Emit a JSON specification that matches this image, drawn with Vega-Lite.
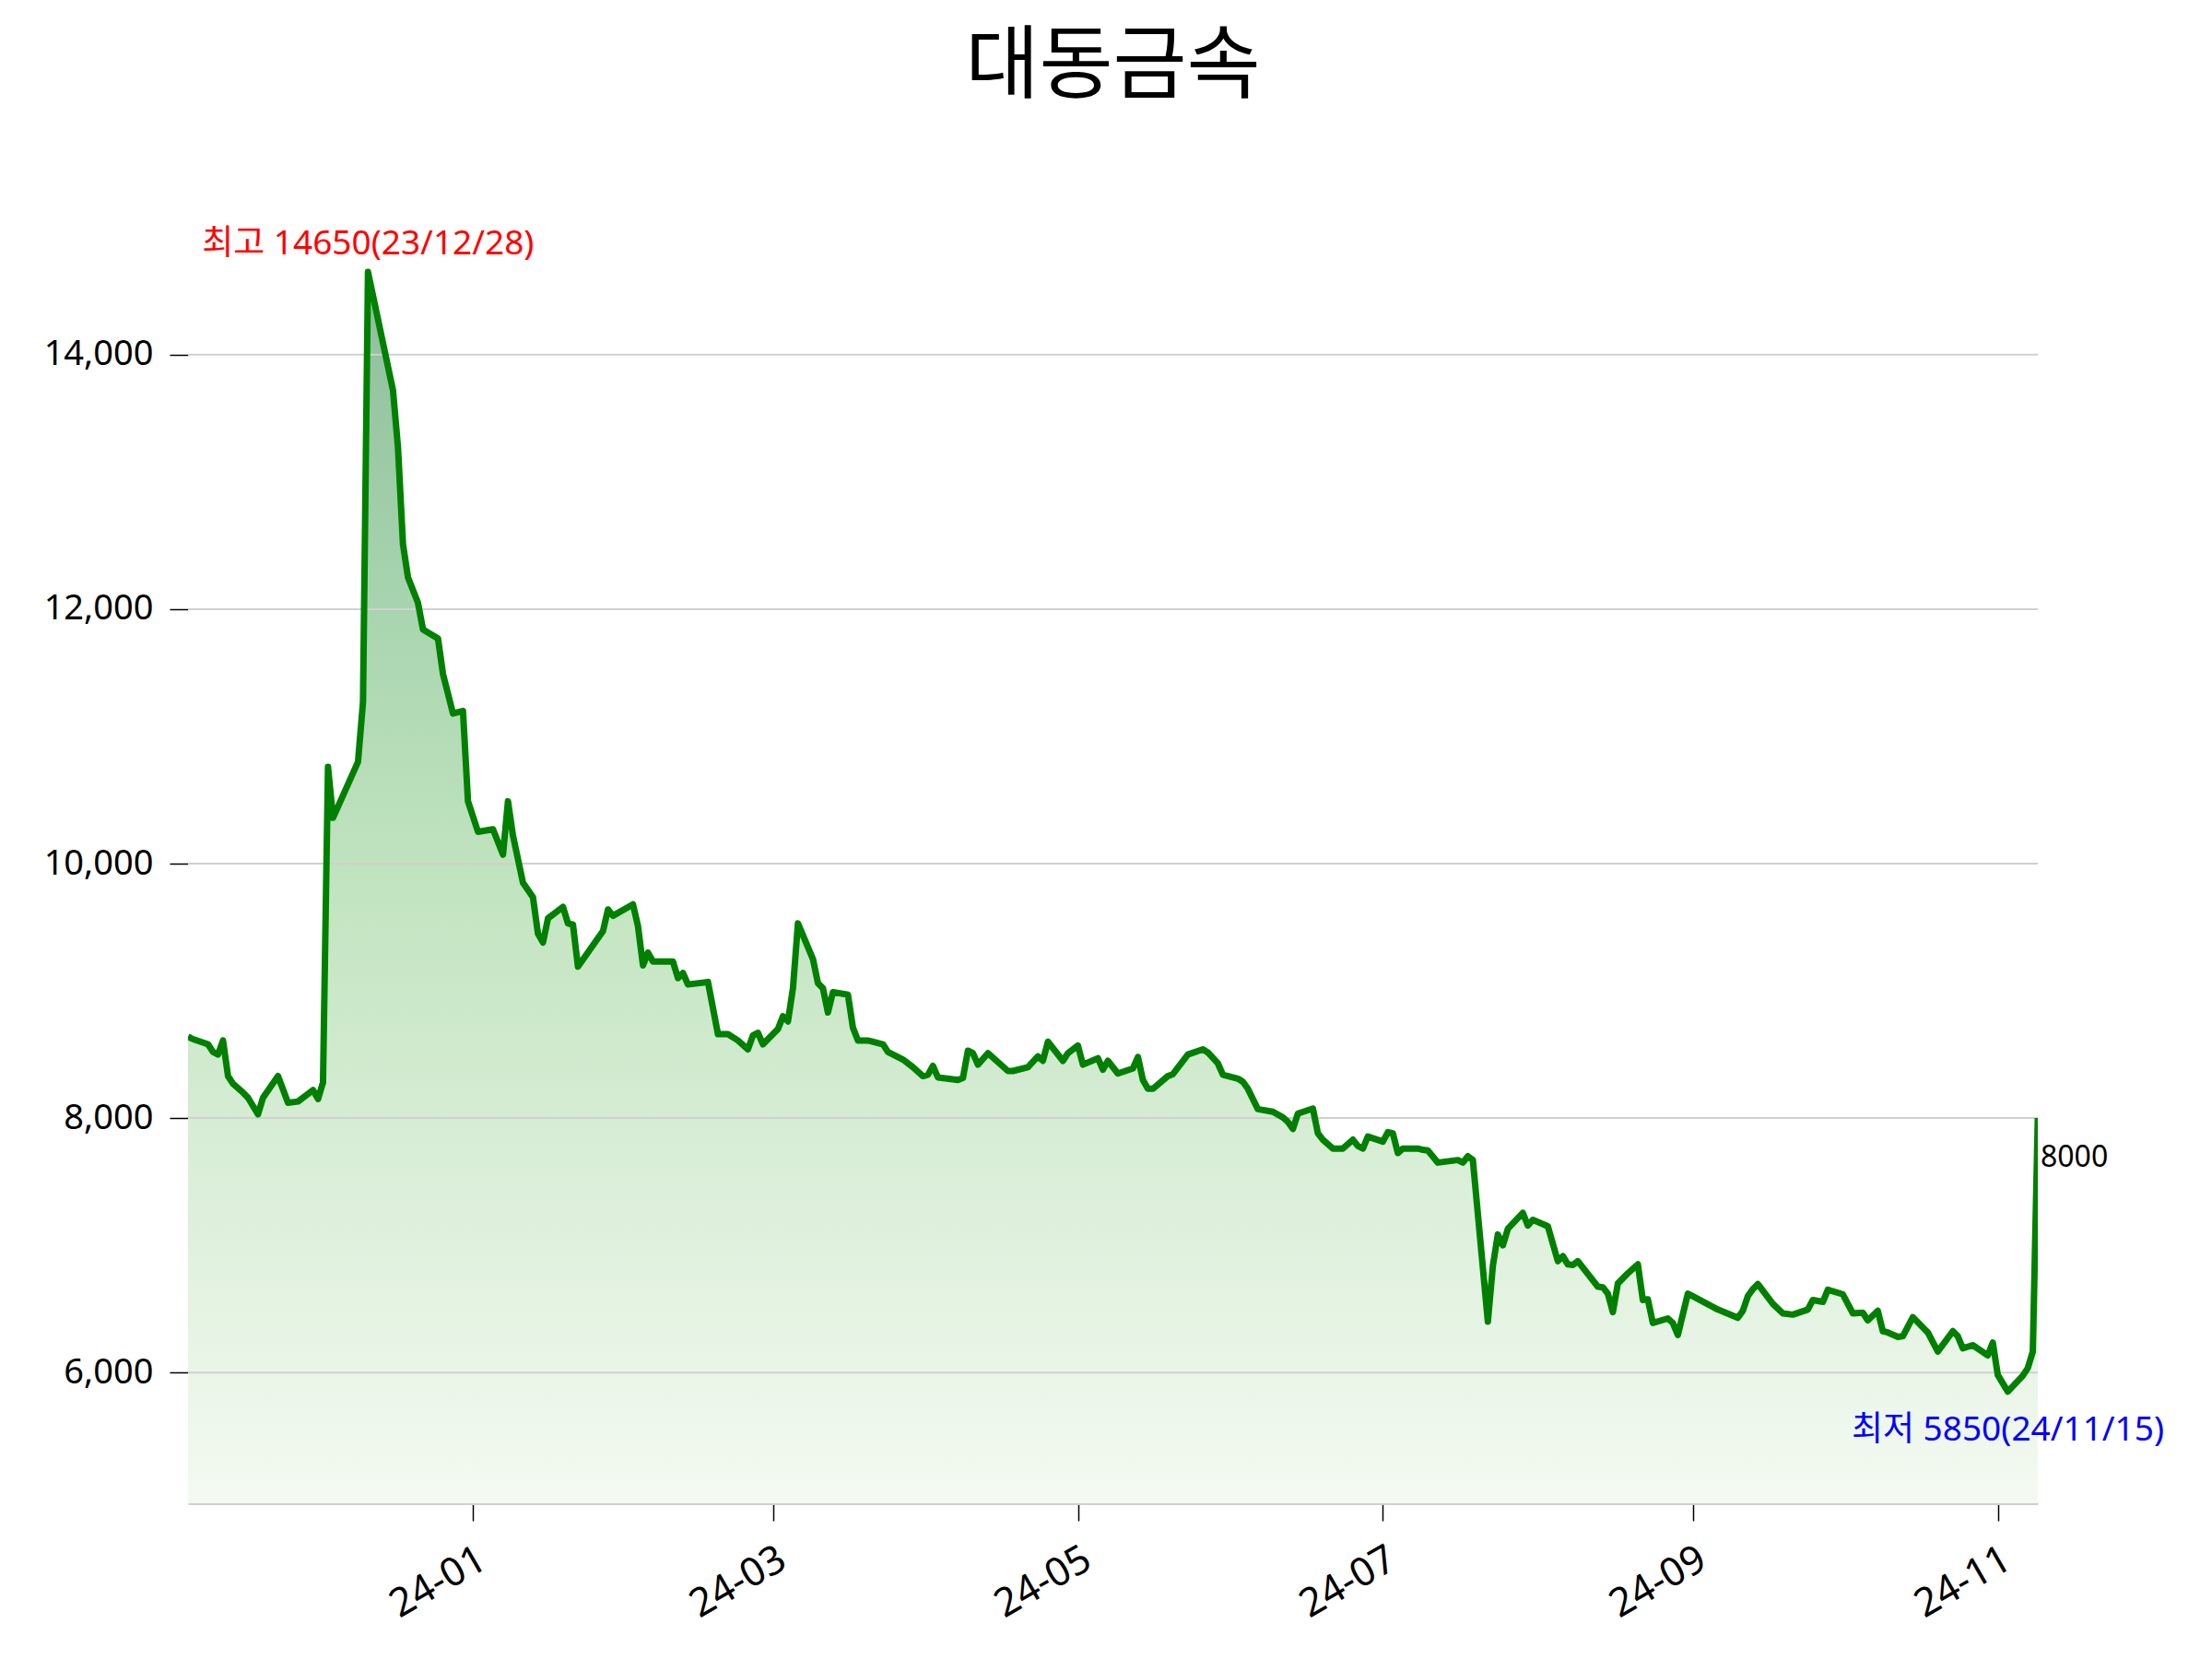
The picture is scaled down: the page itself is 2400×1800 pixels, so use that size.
{
  "$schema": "https://vega.github.io/schema/vega-lite/v6.json",
  "width": 2007,
  "height": 1437,
  "autosize": {"type": "none"},
  "padding": {"left": 204, "top": 194, "right": 189, "bottom": 169},
  "background": "white",
  "title": {
    "text": "대동금속",
    "font": "Noto Sans CJK KR",
    "fontSize": 87,
    "fontWeight": "normal",
    "color": "black",
    "anchor": "middle",
    "baseline": "alphabetic",
    "offset": 7
  },
  "config": {
    "view": {"stroke": null},
    "font": "'Noto Sans', 'Noto Sans CJK KR', sans-serif",
    "axisX": {
      "domainColor": "#cfcfcf",
      "domainWidth": 3,
      "tickColor": "black",
      "tickWidth": 1.5,
      "tickSize": 19,
      "labelFont": "Noto Sans",
      "labelFontSize": 43,
      "labelColor": "black",
      "labelAngle": -30,
      "labelAlign": "right",
      "labelBaseline": "top",
      "labelPadding": 20,
      "labelDx": -28,
      "labelDy": -14,
      "labelFlush": false,
      "grid": false,
      "title": null,
      "zindex": 1
    },
    "axisY": {
      "domain": false,
      "tickColor": "black",
      "tickWidth": 1.5,
      "tickSize": 20,
      "labelFont": "Noto Sans",
      "labelFontSize": 38,
      "labelColor": "black",
      "labelPadding": 18,
      "grid": false,
      "title": null
    }
  },
  "datasets": {
    "price": [
      {"date": "2023-11-05", "v": 8640}, {"date": "2023-11-06", "v": 8620}, {"date": "2023-11-09", "v": 8580},
      {"date": "2023-11-10", "v": 8520}, {"date": "2023-11-11", "v": 8500}, {"date": "2023-11-12", "v": 8610},
      {"date": "2023-11-13", "v": 8330}, {"date": "2023-11-14", "v": 8270}, {"date": "2023-11-16", "v": 8200},
      {"date": "2023-11-17", "v": 8160}, {"date": "2023-11-19", "v": 8030}, {"date": "2023-11-20", "v": 8160},
      {"date": "2023-11-23", "v": 8330}, {"date": "2023-11-25", "v": 8120}, {"date": "2023-11-27", "v": 8130},
      {"date": "2023-11-30", "v": 8220}, {"date": "2023-12-01", "v": 8150}, {"date": "2023-12-02", "v": 8280},
      {"date": "2023-12-03", "v": 10760}, {"date": "2023-12-04", "v": 10360}, {"date": "2023-12-09", "v": 10800},
      {"date": "2023-12-10", "v": 11270}, {"date": "2023-12-11", "v": 14650}, {"date": "2023-12-16", "v": 13720},
      {"date": "2023-12-17", "v": 13270}, {"date": "2023-12-18", "v": 12510}, {"date": "2023-12-19", "v": 12250},
      {"date": "2023-12-21", "v": 12050}, {"date": "2023-12-22", "v": 11840}, {"date": "2023-12-25", "v": 11770},
      {"date": "2023-12-26", "v": 11490}, {"date": "2023-12-28", "v": 11180}, {"date": "2023-12-30", "v": 11200},
      {"date": "2023-12-31", "v": 10490}, {"date": "2024-01-02", "v": 10250}, {"date": "2024-01-05", "v": 10270},
      {"date": "2024-01-07", "v": 10070}, {"date": "2024-01-08", "v": 10490}, {"date": "2024-01-09", "v": 10220},
      {"date": "2024-01-11", "v": 9850}, {"date": "2024-01-13", "v": 9735}, {"date": "2024-01-14", "v": 9450},
      {"date": "2024-01-15", "v": 9380}, {"date": "2024-01-16", "v": 9570}, {"date": "2024-01-19", "v": 9660},
      {"date": "2024-01-20", "v": 9530}, {"date": "2024-01-21", "v": 9520}, {"date": "2024-01-22", "v": 9190},
      {"date": "2024-01-27", "v": 9470}, {"date": "2024-01-28", "v": 9640}, {"date": "2024-01-29", "v": 9590},
      {"date": "2024-02-02", "v": 9680}, {"date": "2024-02-03", "v": 9510}, {"date": "2024-02-04", "v": 9200},
      {"date": "2024-02-05", "v": 9300}, {"date": "2024-02-06", "v": 9230}, {"date": "2024-02-10", "v": 9230},
      {"date": "2024-02-11", "v": 9100}, {"date": "2024-02-12", "v": 9140}, {"date": "2024-02-13", "v": 9050},
      {"date": "2024-02-17", "v": 9070}, {"date": "2024-02-19", "v": 8660}, {"date": "2024-02-21", "v": 8660},
      {"date": "2024-02-23", "v": 8610}, {"date": "2024-02-25", "v": 8540}, {"date": "2024-02-26", "v": 8650},
      {"date": "2024-02-27", "v": 8670}, {"date": "2024-02-28", "v": 8580}, {"date": "2024-03-02", "v": 8700},
      {"date": "2024-03-03", "v": 8800}, {"date": "2024-03-04", "v": 8760}, {"date": "2024-03-05", "v": 9020},
      {"date": "2024-03-06", "v": 9530}, {"date": "2024-03-09", "v": 9250}, {"date": "2024-03-10", "v": 9060},
      {"date": "2024-03-11", "v": 9020}, {"date": "2024-03-12", "v": 8830}, {"date": "2024-03-13", "v": 8990},
      {"date": "2024-03-16", "v": 8970}, {"date": "2024-03-17", "v": 8710}, {"date": "2024-03-18", "v": 8610},
      {"date": "2024-03-20", "v": 8610}, {"date": "2024-03-23", "v": 8580}, {"date": "2024-03-24", "v": 8520},
      {"date": "2024-03-27", "v": 8460}, {"date": "2024-03-29", "v": 8400}, {"date": "2024-03-31", "v": 8330},
      {"date": "2024-04-01", "v": 8340}, {"date": "2024-04-02", "v": 8410}, {"date": "2024-04-03", "v": 8320},
      {"date": "2024-04-07", "v": 8300}, {"date": "2024-04-08", "v": 8315}, {"date": "2024-04-09", "v": 8530},
      {"date": "2024-04-10", "v": 8510}, {"date": "2024-04-11", "v": 8420}, {"date": "2024-04-13", "v": 8510},
      {"date": "2024-04-17", "v": 8370}, {"date": "2024-04-18", "v": 8370}, {"date": "2024-04-21", "v": 8400},
      {"date": "2024-04-23", "v": 8485}, {"date": "2024-04-24", "v": 8450}, {"date": "2024-04-25", "v": 8600},
      {"date": "2024-04-28", "v": 8450}, {"date": "2024-04-29", "v": 8510}, {"date": "2024-05-01", "v": 8570},
      {"date": "2024-05-02", "v": 8420}, {"date": "2024-05-05", "v": 8470}, {"date": "2024-05-06", "v": 8380},
      {"date": "2024-05-07", "v": 8450}, {"date": "2024-05-09", "v": 8350}, {"date": "2024-05-12", "v": 8390},
      {"date": "2024-05-13", "v": 8480}, {"date": "2024-05-14", "v": 8300}, {"date": "2024-05-15", "v": 8230},
      {"date": "2024-05-16", "v": 8230}, {"date": "2024-05-19", "v": 8330}, {"date": "2024-05-20", "v": 8345},
      {"date": "2024-05-23", "v": 8500}, {"date": "2024-05-26", "v": 8540}, {"date": "2024-05-27", "v": 8515},
      {"date": "2024-05-29", "v": 8430}, {"date": "2024-05-30", "v": 8340}, {"date": "2024-06-02", "v": 8310},
      {"date": "2024-06-03", "v": 8285}, {"date": "2024-06-04", "v": 8230}, {"date": "2024-06-06", "v": 8070},
      {"date": "2024-06-09", "v": 8050}, {"date": "2024-06-11", "v": 8005}, {"date": "2024-06-12", "v": 7970},
      {"date": "2024-06-13", "v": 7915}, {"date": "2024-06-14", "v": 8035}, {"date": "2024-06-17", "v": 8075},
      {"date": "2024-06-18", "v": 7880}, {"date": "2024-06-19", "v": 7830}, {"date": "2024-06-21", "v": 7760},
      {"date": "2024-06-23", "v": 7760}, {"date": "2024-06-25", "v": 7830}, {"date": "2024-06-26", "v": 7780},
      {"date": "2024-06-27", "v": 7760}, {"date": "2024-06-28", "v": 7855}, {"date": "2024-07-01", "v": 7815},
      {"date": "2024-07-02", "v": 7890}, {"date": "2024-07-03", "v": 7880}, {"date": "2024-07-04", "v": 7725},
      {"date": "2024-07-05", "v": 7760}, {"date": "2024-07-08", "v": 7760}, {"date": "2024-07-09", "v": 7750},
      {"date": "2024-07-10", "v": 7745}, {"date": "2024-07-12", "v": 7650}, {"date": "2024-07-16", "v": 7670},
      {"date": "2024-07-17", "v": 7650}, {"date": "2024-07-18", "v": 7700}, {"date": "2024-07-19", "v": 7670},
      {"date": "2024-07-22", "v": 6400}, {"date": "2024-07-23", "v": 6840}, {"date": "2024-07-24", "v": 7085},
      {"date": "2024-07-25", "v": 7000}, {"date": "2024-07-26", "v": 7130}, {"date": "2024-07-29", "v": 7255},
      {"date": "2024-07-30", "v": 7155}, {"date": "2024-07-31", "v": 7200}, {"date": "2024-08-03", "v": 7150},
      {"date": "2024-08-05", "v": 6875}, {"date": "2024-08-06", "v": 6915}, {"date": "2024-08-07", "v": 6850},
      {"date": "2024-08-08", "v": 6845}, {"date": "2024-08-09", "v": 6875}, {"date": "2024-08-13", "v": 6675},
      {"date": "2024-08-14", "v": 6670}, {"date": "2024-08-15", "v": 6620}, {"date": "2024-08-16", "v": 6475},
      {"date": "2024-08-17", "v": 6700}, {"date": "2024-08-19", "v": 6780}, {"date": "2024-08-21", "v": 6850},
      {"date": "2024-08-22", "v": 6570}, {"date": "2024-08-23", "v": 6575}, {"date": "2024-08-24", "v": 6390},
      {"date": "2024-08-27", "v": 6425}, {"date": "2024-08-28", "v": 6390}, {"date": "2024-08-29", "v": 6295},
      {"date": "2024-08-31", "v": 6620}, {"date": "2024-09-01", "v": 6600}, {"date": "2024-09-06", "v": 6495},
      {"date": "2024-09-07", "v": 6480}, {"date": "2024-09-10", "v": 6430}, {"date": "2024-09-11", "v": 6485},
      {"date": "2024-09-12", "v": 6600}, {"date": "2024-09-13", "v": 6655}, {"date": "2024-09-14", "v": 6695},
      {"date": "2024-09-17", "v": 6540}, {"date": "2024-09-19", "v": 6465}, {"date": "2024-09-21", "v": 6455},
      {"date": "2024-09-24", "v": 6495}, {"date": "2024-09-25", "v": 6570}, {"date": "2024-09-27", "v": 6555},
      {"date": "2024-09-28", "v": 6650}, {"date": "2024-10-01", "v": 6615}, {"date": "2024-10-03", "v": 6465},
      {"date": "2024-10-05", "v": 6470}, {"date": "2024-10-06", "v": 6410}, {"date": "2024-10-08", "v": 6485},
      {"date": "2024-10-09", "v": 6325}, {"date": "2024-10-10", "v": 6315}, {"date": "2024-10-12", "v": 6280},
      {"date": "2024-10-13", "v": 6285}, {"date": "2024-10-15", "v": 6435}, {"date": "2024-10-18", "v": 6315},
      {"date": "2024-10-20", "v": 6165}, {"date": "2024-10-23", "v": 6325}, {"date": "2024-10-24", "v": 6285},
      {"date": "2024-10-25", "v": 6190}, {"date": "2024-10-27", "v": 6215}, {"date": "2024-10-30", "v": 6135},
      {"date": "2024-10-31", "v": 6235}, {"date": "2024-11-01", "v": 5980}, {"date": "2024-11-03", "v": 5850},
      {"date": "2024-11-06", "v": 5975}, {"date": "2024-11-07", "v": 6035}, {"date": "2024-11-08", "v": 6165},
      {"date": "2024-11-09", "v": 8000}
    ],
    "grid": [{"v": 6000}, {"v": 8000}, {"v": 10000}, {"v": 12000}, {"v": 14000}]
  },
  "layer": [
    {
      "data": {"name": "price"},
      "mark": {
        "type": "area",
        "clip": true,
        "color": {
          "gradient": "linear",
          "x1": 0, "y1": 0, "x2": 0, "y2": 1,
          "stops": [
            {"offset": 0, "color": "#8dbd9a"},
            {"offset": 0.25, "color": "#a5d3ad"},
            {"offset": 0.5, "color": "#c2e4c0"},
            {"offset": 0.75, "color": "#dcefda"},
            {"offset": 1, "color": "#f4faf2"}
          ]
        }
      },
      "encoding": {
        "x": {
          "field": "date",
          "type": "temporal",
          "scale": {"type": "utc", "nice": false},
          "axis": {"format": "%y-%m", "tickCount": {"interval": "month", "step": 2}}
        },
        "y": {
          "field": "v",
          "type": "quantitative",
          "scale": {"domain": [4972.5, 15382.5], "zero": false, "nice": false},
          "axis": {"values": [6000, 8000, 10000, 12000, 14000], "format": ",.0f"}
        },
        "y2": {"datum": 4972.5}
      }
    },
    {
      "data": {"name": "grid"},
      "mark": {"type": "rule", "color": "#d0d0d0", "strokeWidth": 2},
      "encoding": {
        "y": {"field": "v", "type": "quantitative"}
      }
    },
    {
      "data": {"name": "price"},
      "mark": {"type": "line", "color": "#008000", "strokeWidth": 7, "strokeJoin": "round", "clip": true},
      "encoding": {
        "x": {"field": "date", "type": "temporal"},
        "y": {"field": "v", "type": "quantitative"}
      }
    },
    {
      "data": {"values": [{"date": "2023-12-11", "v": 14650, "label": "최고 14650(23/12/28)"}]},
      "mark": {"type": "text", "color": "#ff0000", "fontSize": 37, "align": "center", "baseline": "alphabetic", "dy": -19},
      "encoding": {
        "x": {"field": "date", "type": "temporal"},
        "y": {"field": "v", "type": "quantitative"},
        "text": {"field": "label"}
      }
    },
    {
      "data": {"values": [{"date": "2024-11-03", "v": 5850, "label": "최저 5850(24/11/15)"}]},
      "mark": {"type": "text", "color": "#0000ff", "fontSize": 37, "align": "center", "baseline": "alphabetic", "dy": 53},
      "encoding": {
        "x": {"field": "date", "type": "temporal"},
        "y": {"field": "v", "type": "quantitative"},
        "text": {"field": "label"}
      }
    },
    {
      "data": {"values": [{"date": "2024-11-09", "v": 8000, "label": "8000"}]},
      "mark": {"type": "text", "color": "black", "fontSize": 32, "align": "left", "baseline": "alphabetic", "dx": 3, "dy": 53},
      "encoding": {
        "x": {"field": "date", "type": "temporal"},
        "y": {"field": "v", "type": "quantitative"},
        "text": {"field": "label"}
      }
    }
  ]
}
